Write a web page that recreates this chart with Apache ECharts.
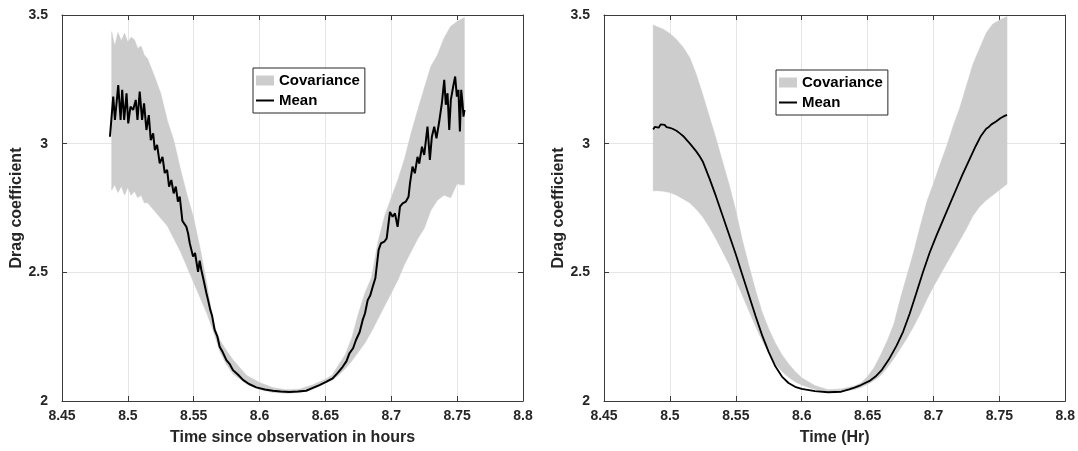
<!DOCTYPE html>
<html>
<head>
<meta charset="utf-8">
<script src="https://cdn.jsdelivr.net/npm/echarts@6/dist/echarts.min.js"></script>
<style>html,body{margin:0;padding:0;background:#fff}#main{width:1078px;height:451px}</style>
</head>
<body>
<div id="main"></div>
<script>
// left panel: noisy estimate
var xMeanL = [8.4864,8.4889,8.4902,8.4927,8.4945,8.4957,8.4972,8.4990,8.5003,8.5020,8.5040,8.5060,8.5073,8.5090,8.5108,8.5123,8.5141,8.5159,8.5174,8.5192,8.5205,8.5222,8.5242,8.5263,8.5280,8.5298,8.5313,8.5330,8.5348,8.5364,8.5380,8.5394,8.5414,8.5444,8.5457,8.5470,8.5495,8.5510,8.5533,8.5545,8.5558,8.5575,8.5596,8.5610,8.5626,8.5640,8.5659,8.5680,8.5697,8.5720,8.5748,8.5775,8.5798,8.5835,8.5874,8.5920,8.5975,8.6040,8.6101,8.6160,8.6227,8.6290,8.6354,8.6400,8.6455,8.6505,8.6555,8.6595,8.6631,8.6660,8.6682,8.6710,8.6732,8.6760,8.6783,8.6800,8.6821,8.6840,8.6859,8.6879,8.6904,8.6922,8.6947,8.6965,8.6990,8.7010,8.7028,8.7048,8.7066,8.7086,8.7111,8.7131,8.7142,8.7161,8.7179,8.7199,8.7212,8.7233,8.7250,8.7263,8.7275,8.7293,8.7308,8.7326,8.7343,8.7364,8.7384,8.7402,8.7414,8.7427,8.7440,8.7452,8.7470,8.7485,8.7498,8.7510,8.7521,8.7531,8.7541,8.7548,8.7556];
var meanL = [3.027,3.183,3.092,3.228,3.092,3.209,3.092,3.196,3.079,3.144,3.131,3.170,3.092,3.202,3.092,3.157,3.053,3.111,3.014,3.040,2.975,2.995,2.923,2.949,2.886,2.898,2.833,2.859,2.807,2.833,2.775,2.794,2.700,2.677,2.652,2.613,2.561,2.575,2.502,2.545,2.509,2.470,2.420,2.390,2.354,2.330,2.276,2.250,2.211,2.190,2.159,2.142,2.120,2.103,2.082,2.066,2.053,2.045,2.040,2.037,2.035,2.037,2.040,2.050,2.062,2.074,2.088,2.110,2.133,2.155,2.185,2.205,2.237,2.268,2.315,2.340,2.392,2.410,2.444,2.477,2.587,2.613,2.619,2.632,2.735,2.716,2.729,2.677,2.755,2.768,2.775,2.794,2.846,2.911,2.885,2.949,2.923,2.988,2.956,3.014,3.066,2.937,3.027,3.066,3.021,3.086,3.157,3.248,3.151,3.196,3.053,3.170,3.222,3.261,3.183,3.209,3.047,3.209,3.157,3.105,3.131];
var xBandL = [8.4877,8.490,8.4925,8.495,8.4975,8.500,8.5025,8.505,8.5075,8.510,8.5125,8.515,8.520,8.525,8.530,8.535,8.540,8.545,8.550,8.555,8.560,8.565,8.570,8.575,8.580,8.590,8.600,8.610,8.620,8.630,8.640,8.650,8.655,8.660,8.665,8.670,8.675,8.680,8.685,8.690,8.695,8.700,8.705,8.710,8.715,8.720,8.725,8.730,8.735,8.740,8.745,8.750,8.7525,8.7555];
var upperL = [3.435,3.380,3.432,3.400,3.429,3.395,3.414,3.404,3.370,3.380,3.345,3.330,3.265,3.195,3.090,3.010,2.900,2.800,2.710,2.590,2.455,2.300,2.235,2.195,2.159,2.100,2.072,2.052,2.044,2.046,2.062,2.085,2.100,2.140,2.180,2.245,2.340,2.420,2.480,2.620,2.720,2.790,2.860,2.940,3.040,3.130,3.215,3.300,3.345,3.410,3.455,3.475,3.482,3.490];
var lowerL = [2.820,2.840,2.810,2.835,2.800,2.830,2.800,2.815,2.790,2.800,2.770,2.770,2.740,2.710,2.680,2.630,2.580,2.520,2.460,2.400,2.340,2.270,2.190,2.140,2.105,2.066,2.045,2.033,2.030,2.032,2.045,2.070,2.080,2.100,2.125,2.155,2.190,2.225,2.270,2.320,2.370,2.420,2.470,2.530,2.580,2.630,2.670,2.740,2.780,2.800,2.790,2.845,2.840,2.840];

// right panel: smoothed estimate
var xMeanR = [8.4873,8.4885,8.490,8.4915,8.493,8.4945,8.496,8.4975,8.499,8.500,8.502,8.505,8.5076,8.510,8.5152,8.520,8.5227,8.525,8.530,8.535,8.540,8.545,8.550,8.555,8.560,8.565,8.570,8.575,8.580,8.585,8.590,8.595,8.600,8.610,8.620,8.630,8.636,8.640,8.645,8.6515,8.656,8.661,8.666,8.672,8.677,8.682,8.687,8.692,8.697,8.702,8.707,8.712,8.717,8.722,8.727,8.732,8.736,8.740,8.742,8.744,8.7475,8.749,8.751,8.7525,8.754,8.7558];
var meanR = [3.055,3.065,3.070,3.062,3.075,3.068,3.073,3.064,3.068,3.061,3.058,3.050,3.040,3.030,3.000,2.970,2.950,2.930,2.865,2.795,2.720,2.645,2.570,2.490,2.410,2.330,2.255,2.190,2.135,2.095,2.070,2.055,2.047,2.038,2.034,2.036,2.045,2.052,2.062,2.078,2.095,2.122,2.160,2.215,2.270,2.340,2.420,2.500,2.575,2.640,2.700,2.760,2.820,2.880,2.935,2.990,3.030,3.058,3.065,3.075,3.086,3.090,3.100,3.096,3.108,3.112];
var xBandR = [8.4873,8.490,8.495,8.500,8.505,8.510,8.515,8.520,8.525,8.530,8.535,8.540,8.545,8.550,8.555,8.560,8.565,8.570,8.575,8.580,8.585,8.590,8.595,8.600,8.610,8.620,8.630,8.640,8.645,8.650,8.655,8.660,8.665,8.670,8.675,8.680,8.685,8.690,8.695,8.700,8.705,8.710,8.715,8.720,8.725,8.730,8.735,8.740,8.745,8.750,8.7558];
var upperR = [3.461,3.455,3.445,3.428,3.405,3.375,3.335,3.270,3.190,3.105,3.020,2.930,2.840,2.740,2.625,2.525,2.430,2.345,2.280,2.225,2.180,2.145,2.115,2.090,2.060,2.044,2.047,2.058,2.070,2.095,2.130,2.180,2.235,2.300,2.400,2.490,2.580,2.680,2.775,2.845,2.920,2.990,3.070,3.140,3.225,3.310,3.370,3.430,3.465,3.480,3.494];
var lowerR = [2.817,2.817,2.815,2.810,2.800,2.785,2.770,2.745,2.715,2.675,2.630,2.580,2.530,2.470,2.410,2.350,2.290,2.235,2.185,2.145,2.115,2.092,2.075,2.062,2.045,2.036,2.037,2.045,2.053,2.065,2.080,2.100,2.130,2.165,2.205,2.245,2.290,2.340,2.395,2.445,2.490,2.535,2.580,2.625,2.670,2.720,2.755,2.780,2.800,2.820,2.843];

var xTicks = ['8.45','8.5','8.55','8.6','8.65','8.7','8.75','8.8'];

var chart = echarts.init(document.getElementById('main'));
var txt = '#262626';
var axCol = '#3a3a3a';
var font = 'Liberation Sans, Arial, Helvetica, sans-serif';

function bandSeries(gi, xs, lo, hi) {
    return {
        name: 'Covariance', type: 'custom', xAxisIndex: gi * 2, yAxisIndex: gi * 2,
        itemStyle: {color: '#cdcdcd'},
        data: xs.map(function (x, i) { return [x, lo[i], hi[i]]; }),
        encode: {x: 0, y: [1, 2]},
        z: 1, silent: true,
        renderItem: function (params, api) {
            if (params.dataIndex !== 0) return null;
            var pts = [];
            for (var i = 0; i < xs.length; i++) pts.push(api.coord([xs[i], hi[i]]));
            for (var j = xs.length - 1; j >= 0; j--) pts.push(api.coord([xs[j], lo[j]]));
            return {type: 'polygon', shape: {points: pts}, style: {fill: '#cdcdcd', stroke: '#cdcdcd', lineWidth: 0.5}};
        }
    };
}
function meanSeries(gi, xs, ys, w) {
    return {
        name: 'Mean', type: 'line', xAxisIndex: gi * 2, yAxisIndex: gi * 2,
        showSymbol: false, symbol: 'none', z: 3, silent: true, animation: false,
        lineStyle: {color: '#000', width: w}, itemStyle: {color: '#000'},
        data: xs.map(function (x, i) { return [x, ys[i]]; })
    };
}
function xAx(gi, name, top) {
    var a = {
        type: 'value', gridIndex: gi, min: 8.45, max: 8.8, interval: 0.05,
        position: top ? 'top' : 'bottom',
        axisLine: {show: true, onZero: false, lineStyle: {color: axCol, width: 1}},
        axisTick: {show: true, inside: true, length: 5, lineStyle: {color: axCol}},
        axisLabel: {show: !top, margin: 8, color: txt, fontSize: 14, fontWeight: 'bold', fontFamily: font,
            formatter: function (v) { return xTicks[Math.round((v - 8.45) / 0.05)]; }},
        splitLine: {show: !top, lineStyle: {color: '#e6e6e6', width: 1}}
    };
    if (!top) {
        a.name = name; a.nameLocation = 'middle'; a.nameGap = 29;
        a.nameTextStyle = {color: txt, fontSize: 16, fontWeight: 'bold', fontFamily: font};
    }
    return a;
}
function yAx(gi, right) {
    var a = {
        type: 'value', gridIndex: gi, min: 2, max: 3.5, interval: 0.5,
        position: right ? 'right' : 'left',
        axisLine: {show: true, onZero: false, lineStyle: {color: axCol, width: 1}},
        axisTick: {show: true, inside: true, length: 5, lineStyle: {color: axCol}},
        axisLabel: {show: !right, margin: 14, color: txt, fontSize: 14, fontWeight: 'bold', fontFamily: font},
        splitLine: {show: !right, lineStyle: {color: '#e6e6e6', width: 1}}
    };
    if (!right) {
        a.name = 'Drag coefficient'; a.nameLocation = 'middle'; a.nameGap = 34;
        a.nameTextStyle = {color: txt, fontSize: 16, fontWeight: 'bold', fontFamily: font};
    }
    return a;
}
function legendAt(left, top) {
    return {
        orient: 'vertical', left: left, top: top,
        data: [
            {name: 'Covariance', icon: 'rect'},
            {name: 'Mean', icon: 'path://M0,0H18V2H0Z', itemStyle: {color: '#000'}, lineStyle: {color: '#000', width: 2}}
        ],
        itemWidth: 18, itemHeight: 10, itemGap: 5,
        padding: [5, 5, 5, 3],
        borderColor: '#262626', borderWidth: 1, backgroundColor: '#fff',
        selectedMode: false,
        textStyle: {color: '#000', fontSize: 15, fontWeight: 'bold', fontFamily: font}
    };
}

var option = {
    backgroundColor: '#fff',
    animation: false,
    grid: [
        {left: 62, right: 555, top: 15, bottom: 50},
        {left: 604, right: 12, top: 15, bottom: 50}
    ],
    legend: [legendAt(253, 68), legendAt(776, 70)],
    xAxis: [xAx(0, 'Time since observation in hours', false), xAx(0, '', true),
            xAx(1, 'Time (Hr)', false), xAx(1, '', true)],
    yAxis: [yAx(0, false), yAx(0, true), yAx(1, false), yAx(1, true)],
    series: [
        bandSeries(0, xBandL, lowerL, upperL),
        meanSeries(0, xMeanL, meanL, 2),
        bandSeries(1, xBandR, lowerR, upperR),
        meanSeries(1, xMeanR, meanR, 1.8)
    ]
};
chart.setOption(option);
</script>
</body>
</html>
